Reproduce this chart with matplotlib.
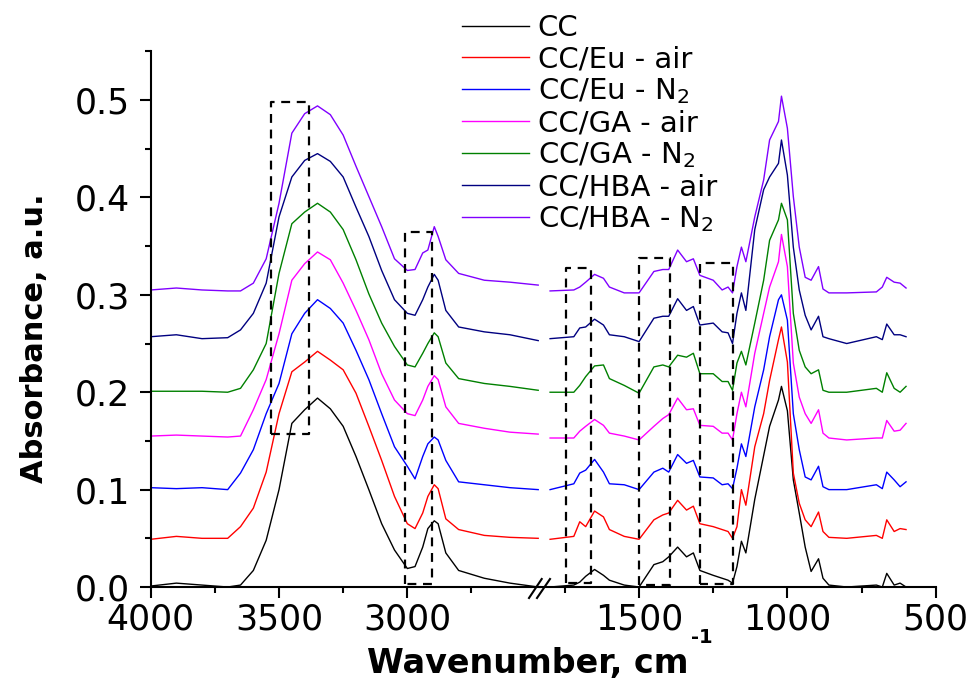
import matplotlib
matplotlib.use('Agg')
import matplotlib.pyplot as plt
from matplotlib.lines import Line2D
from matplotlib.ticker import FixedLocator, MultipleLocator, FormatStrFormatter

plt.rcParams['font.family'] = ['DejaVu Sans']
plt.rcParams['mathtext.fontset'] = 'dejavusans'

# wavenumber grids for the two panels of the broken axis
wn_left = [4000, 3900, 3800, 3700, 3650, 3600, 3550, 3500, 3450, 3400, 3350, 3300, 3250, 3200,
           3150, 3100, 3050, 3000, 2970, 2940, 2920, 2895, 2880, 2850, 2800, 2700, 2600, 2490]
wn_right = [1800, 1720, 1700, 1680, 1650, 1620, 1600, 1550, 1500, 1450, 1420, 1400, 1370, 1340,
            1317, 1295, 1250, 1220, 1200, 1185, 1170, 1155, 1140, 1110, 1080, 1060, 1030, 1020,
            1000, 980, 960, 940, 920, 895, 880, 860, 800, 700, 680, 665, 640, 620, 600]

labels = ['CC', 'CC/Eu - air', 'CC/Eu - N$_2$', 'CC/GA - air', 'CC/GA - N$_2$',
          'CC/HBA - air', 'CC/HBA - N$_2$']
colors = ['black', '#ff0000', '#0000ff', '#ff00ff', '#008000', '#000080', '#8000ff']

cc_left = [0.001, 0.004, 0.002, 0.0, 0.002, 0.017, 0.048, 0.10, 0.168, 0.182, 0.194, 0.183, 0.165, 0.134,
           0.10, 0.065, 0.038, 0.019, 0.021, 0.041, 0.060, 0.068, 0.065, 0.035, 0.017, 0.009, 0.004, 0.0]
eu_air_left = [0.049, 0.052, 0.050, 0.050, 0.062, 0.081, 0.118, 0.178, 0.221, 0.231, 0.242, 0.233, 0.223, 0.199,
               0.165, 0.130, 0.093, 0.065, 0.060, 0.076, 0.093, 0.105, 0.101, 0.070, 0.059, 0.053, 0.051, 0.050]
eu_n2_left = [0.102, 0.101, 0.102, 0.100, 0.117, 0.141, 0.178, 0.209, 0.260, 0.281, 0.295, 0.286, 0.271, 0.243,
              0.213, 0.178, 0.144, 0.124, 0.111, 0.134, 0.147, 0.154, 0.151, 0.130, 0.108, 0.105, 0.102, 0.100]
ga_air_left = [0.155, 0.156, 0.155, 0.154, 0.155, 0.182, 0.213, 0.260, 0.315, 0.332, 0.344, 0.336, 0.312, 0.284,
               0.254, 0.219, 0.192, 0.178, 0.176, 0.192, 0.206, 0.217, 0.213, 0.185, 0.168, 0.163, 0.159, 0.157]
ga_n2_left = [0.201, 0.201, 0.201, 0.200, 0.204, 0.223, 0.250, 0.322, 0.373, 0.385, 0.394, 0.385, 0.367, 0.336,
              0.301, 0.271, 0.247, 0.228, 0.226, 0.240, 0.250, 0.261, 0.257, 0.230, 0.214, 0.209, 0.206, 0.202]
hba_air_left = [0.257, 0.259, 0.255, 0.256, 0.264, 0.281, 0.312, 0.380, 0.421, 0.438, 0.445, 0.437, 0.421, 0.390,
                0.360, 0.325, 0.295, 0.281, 0.279, 0.295, 0.308, 0.321, 0.315, 0.284, 0.267, 0.262, 0.259, 0.253]
hba_n2_left = [0.305, 0.307, 0.305, 0.304, 0.304, 0.312, 0.337, 0.394, 0.466, 0.486, 0.494, 0.485, 0.464, 0.432,
               0.401, 0.370, 0.337, 0.325, 0.326, 0.343, 0.346, 0.370, 0.360, 0.336, 0.322, 0.315, 0.313, 0.310]

cc_right = [0.0, 0.002, 0.005, 0.011, 0.018, 0.012, 0.007, 0.002, 0.0, 0.023, 0.026, 0.031, 0.041, 0.031,
            0.035, 0.017, 0.012, 0.009, 0.007, 0.004, 0.021, 0.047, 0.035, 0.090, 0.135, 0.165, 0.192, 0.206,
            0.181, 0.110, 0.076, 0.041, 0.016, 0.029, 0.009, 0.002, 0.0, 0.002, 0.0, 0.014, 0.002, 0.004, 0.0]
eu_air_right = [0.049, 0.052, 0.067, 0.062, 0.078, 0.072, 0.059, 0.052, 0.049, 0.069, 0.074, 0.076, 0.089, 0.079,
                0.083, 0.065, 0.062, 0.059, 0.057, 0.050, 0.062, 0.100, 0.084, 0.144, 0.178, 0.212, 0.254, 0.267,
                0.231, 0.117, 0.086, 0.069, 0.062, 0.077, 0.057, 0.051, 0.050, 0.053, 0.050, 0.069, 0.057, 0.060, 0.059]
eu_n2_right = [0.100, 0.106, 0.117, 0.120, 0.131, 0.118, 0.106, 0.105, 0.100, 0.118, 0.122, 0.118, 0.136, 0.127,
               0.130, 0.113, 0.112, 0.105, 0.106, 0.101, 0.122, 0.147, 0.134, 0.185, 0.223, 0.257, 0.295, 0.300,
               0.274, 0.178, 0.141, 0.113, 0.110, 0.124, 0.103, 0.100, 0.100, 0.105, 0.101, 0.118, 0.110, 0.103, 0.108]
ga_air_right = [0.153, 0.153, 0.160, 0.165, 0.172, 0.166, 0.158, 0.155, 0.151, 0.165, 0.173, 0.177, 0.194, 0.182,
                0.183, 0.166, 0.165, 0.158, 0.158, 0.151, 0.178, 0.200, 0.185, 0.240, 0.281, 0.308, 0.334, 0.362,
                0.329, 0.230, 0.195, 0.178, 0.168, 0.182, 0.158, 0.153, 0.151, 0.153, 0.153, 0.171, 0.160, 0.161, 0.168]
ga_n2_right = [0.200, 0.200, 0.207, 0.216, 0.227, 0.228, 0.214, 0.207, 0.199, 0.226, 0.228, 0.226, 0.238, 0.236,
               0.240, 0.219, 0.219, 0.211, 0.211, 0.202, 0.230, 0.242, 0.228, 0.271, 0.315, 0.356, 0.377, 0.394,
               0.377, 0.281, 0.243, 0.226, 0.219, 0.223, 0.202, 0.200, 0.200, 0.204, 0.200, 0.220, 0.204, 0.200, 0.206]
hba_air_right = [0.255, 0.257, 0.266, 0.267, 0.275, 0.269, 0.259, 0.257, 0.252, 0.276, 0.278, 0.278, 0.296, 0.284,
                 0.288, 0.269, 0.271, 0.262, 0.261, 0.250, 0.281, 0.302, 0.284, 0.367, 0.408, 0.421, 0.435, 0.459,
                 0.423, 0.349, 0.305, 0.279, 0.264, 0.278, 0.257, 0.255, 0.250, 0.257, 0.254, 0.270, 0.259, 0.259, 0.257]
hba_n2_right = [0.304, 0.305, 0.308, 0.313, 0.321, 0.317, 0.308, 0.302, 0.302, 0.324, 0.326, 0.326, 0.346, 0.334,
                0.337, 0.320, 0.315, 0.305, 0.308, 0.302, 0.329, 0.349, 0.334, 0.380, 0.418, 0.459, 0.478, 0.504,
                0.471, 0.401, 0.349, 0.318, 0.315, 0.329, 0.306, 0.302, 0.302, 0.303, 0.308, 0.318, 0.313, 0.312, 0.307]

left_series = [cc_left, eu_air_left, eu_n2_left, ga_air_left, ga_n2_left, hba_air_left, hba_n2_left]
right_series = [cc_right, eu_air_right, eu_n2_right, ga_air_right, ga_n2_right, hba_air_right, hba_n2_right]

left_ticks = [4000, 3500, 3000]
left_minor = [3750, 3250, 2750]
right_ticks = [1500, 1000, 500]
right_minor = [1750, 1250, 750]

# dashed marker boxes: (wn_start, wn_end, y_bottom, y_top)
boxes_left = [(3532, 3383, 0.157, 0.498), (3008, 2903, 0.003, 0.365)]
boxes_right = [(1746, 1663, 0.004, 0.328), (1500, 1395, 0.002, 0.338), (1293, 1184, 0.003, 0.333)]

fig = plt.figure(figsize=(9.73, 6.81), dpi=100)
ax1 = fig.add_axes([150.7 / 973, 0.138, 389.3 / 973, 0.7866])
ax2 = fig.add_axes([540 / 973, 0.138, 395.7 / 973, 0.7866], sharey=ax1)

for i in range(len(labels)):
    ax1.plot(wn_left, left_series[i], color=colors[i], lw=1.0, label=labels[i])
    ax2.plot(wn_right, right_series[i], color=colors[i], lw=1.0)

for ax, boxes in [(ax1, boxes_left), (ax2, boxes_right)]:
    for x0, x1, y0, y1 in boxes:
        ax.plot([x0, x0, x1, x1, x0], [y0, y1, y1, y0, y0], color='black',
                lw=1.6, ls=(0, (4, 3)))

ax1.set_xlim(4000, 2483)
ax2.set_xlim(1834, 500)
ax1.set_ylim(0, 0.55)

ax1.xaxis.set_major_locator(FixedLocator(left_ticks))
ax1.xaxis.set_minor_locator(FixedLocator(left_minor))
ax2.xaxis.set_major_locator(FixedLocator(right_ticks))
ax2.xaxis.set_minor_locator(FixedLocator(right_minor))
ax1.yaxis.set_major_locator(MultipleLocator(0.1))
ax1.yaxis.set_minor_locator(MultipleLocator(0.05))
ax1.yaxis.set_major_formatter(FormatStrFormatter('%.1f'))

for ax in [ax1, ax2]:
    ax.spines['top'].set_visible(False)
    ax.spines['right'].set_visible(False)
    ax.spines['bottom'].set_linewidth(1.5)
    ax.spines['left'].set_linewidth(1.5)
    ax.tick_params(which='major', direction='out', length=8, width=1.5, labelsize=25)
    ax.tick_params(which='minor', direction='out', length=4, width=1.5)
    ax.tick_params(axis='x', pad=3.5)
    ax.tick_params(axis='y', pad=7)
    ax.patch.set_visible(False)
ax2.spines['left'].set_visible(False)
ax2.tick_params(axis='y', which='both', left=False, labelleft=False)

# break marks
for xa, xb in [(529, 541.7), (537, 550)]:
    fig.add_artist(Line2D([xa / 973, xb / 973], [1 - 598 / 681, 1 - 579 / 681],
                          transform=fig.transFigure, color='black', lw=1.5))

xlab = fig.text(367 / 973, 1 - 673 / 681, 'Wavenumber, cm', ha='left', va='baseline',
                fontsize=24, fontweight='bold')
fig.canvas.draw()
bb = xlab.get_window_extent()
fig.text((bb.x1 + 2) / 973, 1 - 643 / 681, '-1', ha='left', va='baseline',
         fontsize=14, fontweight='bold')
fig.text(35 / 973, 1 - 338 / 681, 'Absorbance, a.u.', ha='center', va='center', rotation=90,
         fontsize=22, fontweight='bold')

fig.legend(loc='upper left', bbox_to_anchor=(456 / 973, 1 - 8 / 681), frameon=False,
           fontsize=21, handlelength=2.3, handletextpad=0.3, labelspacing=0.11, borderpad=0.2,
           borderaxespad=0)

fig.savefig('out.png', dpi=100)
